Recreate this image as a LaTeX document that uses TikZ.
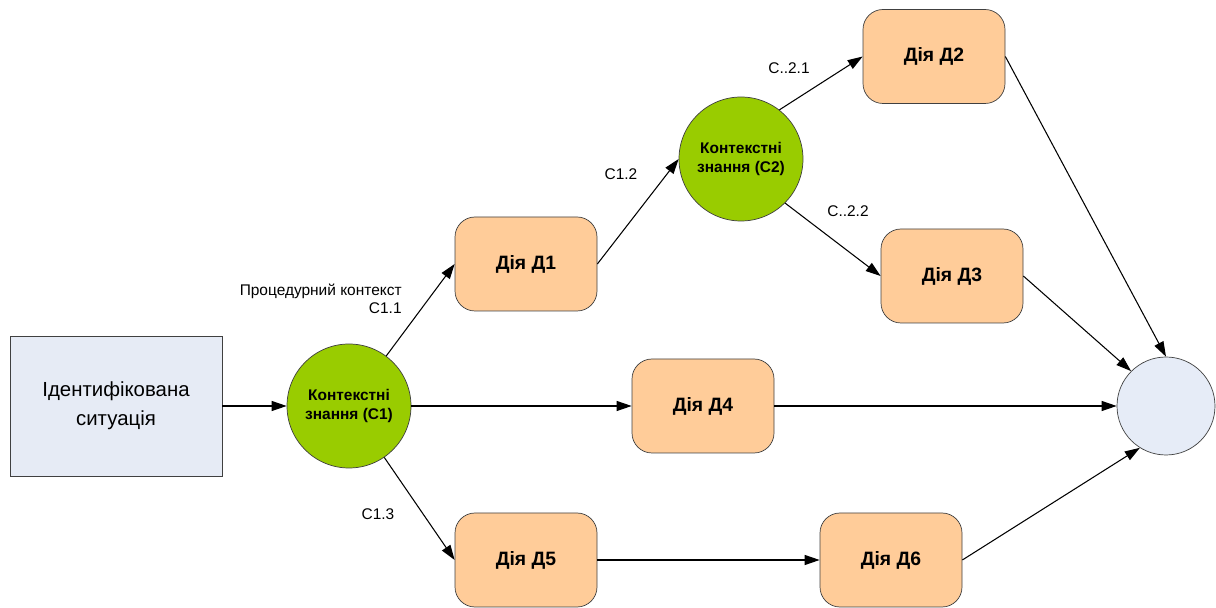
\documentclass[tikz,border=0pt]{standalone}
\usepackage{fontspec}
\setmainfont{Liberation Sans}
\usetikzlibrary{arrows.meta, positioning, shapes.geometric}
\definecolor{sitfill}{RGB}{230,235,245}
\definecolor{actfill}{RGB}{255,204,153}
\definecolor{ctxgreen}{RGB}{153,204,0}
\definecolor{endfill}{RGB}{230,236,247}
\definecolor{edgegray}{RGB}{64,64,64}

\begin{document}
\begin{tikzpicture}[
  sit/.style={rectangle, draw=edgegray, fill=sitfill, minimum width=4.24cm,
              minimum height=2.8cm, align=center, font=\fontsize{11.6}{16.5}\selectfont},
  act/.style={rectangle, rounded corners=0.4cm, draw=edgegray, fill=actfill,
              minimum width=2.84cm, minimum height=1.88cm, font=\fontsize{11}{13}\selectfont\bfseries},
  ctx/.style={circle, draw=edgegray, fill=ctxgreen, minimum size=2.48cm, inner sep=0pt,
              align=center, font=\fontsize{8.8}{10.6}\selectfont\bfseries},
  fin/.style={circle, draw=edgegray, fill=endfill, minimum size=1.96cm},
  lbl/.style={font=\fontsize{8.8}{10}\selectfont, inner sep=0pt},
  arr/.style={-{Triangle[length=0.3cm, width=0.2cm]}, line width=0.6pt}
]
  \useasboundingbox (0,0) rectangle (24.32,-12.16);
  \node[sit] (sit) at (2.32,-8.12) {Ідентифікована\\ситуація};
  \node[ctx] (c1)  at (6.98,-8.12) {Контекстні\\знання (С1)};
  \node[ctx] (c2)  at (14.82,-3.18) {Контекстні\\знання (С2)};
  \node[act] (d1)  at (10.52,-5.28) {Дія Д1};
  \node[act] (d2)  at (18.68,-1.13) {Дія Д2};
  \node[act] (d3)  at (19.04,-5.52) {Дія Д3};
  \node[act] (d4)  at (14.06,-8.12) {Дія Д4};
  \node[act] (d5)  at (10.52,-11.20) {Дія Д5};
  \node[act] (d6)  at (17.82,-11.20) {Дія Д6};
  \node[fin] (end) at (23.32,-8.12) {};
  % labels
  \node[lbl, anchor=east, align=right] (l11) at (8.04,-5.98) {Процедурний контекст\\С1.1};
  \node[lbl] (l12) at (12.42,-3.48) {С1.2};
  \node[lbl] (l21) at (15.78,-1.36) {С..2.1};
  \node[lbl] (l22) at (16.96,-4.22) {С..2.2};
  \node[lbl] (l13) at (7.56,-10.28) {С1.3};
  % edges
  \draw[arr] (sit) -- (c1);
  \draw[arr] (c1) -- (d1.west);
  \draw[arr] (c1) -- (d4);
  \draw[arr] (c1) -- (d5.west);
  \draw[arr] (d1.east) -- (c2.west);
  \draw[arr] (c2.52) -- (d2.west);
  \draw[arr] (c2.south east) -- (d3.west);
  \draw[arr] (d5) -- (d6);
  \draw[arr] (d2.east) -- (end.north);
  \draw[arr] (d3.east) -- (end.north west);
  \draw[arr] (d4) -- (end);
  \draw[arr] (d6.east) -- (end.238);
\end{tikzpicture}
\end{document}
